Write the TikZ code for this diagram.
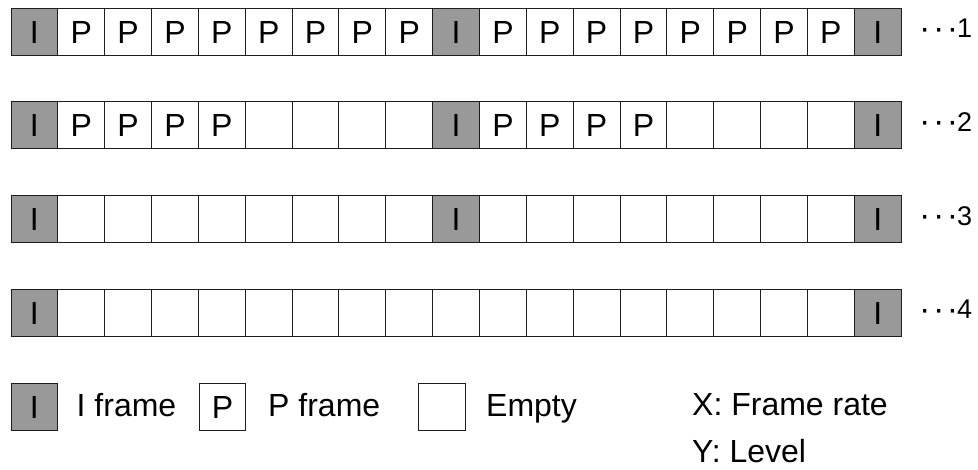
\documentclass[tikz,border=0pt]{standalone}
\usepackage{fontspec}
\setmainfont{Liberation Sans}
\definecolor{igray}{RGB}{153,153,153}
\definecolor{edge}{RGB}{30,30,30}
\def\txtI{I}
\def\txtP{P}
\def\txtE{}
\begin{document}
\begin{tikzpicture}[x=1pt,y=-1pt,
  big/.style={font=\fontsize{32}{38}\selectfont},
  cell/.style={draw=edge, line width=1pt, minimum width=46.85pt, minimum height=47pt,
    inner sep=0pt, anchor=north west, big, text height=23pt, text depth=0pt},
  frameI/.style={cell, fill=igray},
  frameP/.style={cell, fill=white},
  frameE/.style={cell, fill=white},
  lvl/.style={font=\fontsize{27}{30}\selectfont, inner sep=0pt, anchor=base west},
  legtext/.style={big, inner sep=0pt, anchor=base west}
]
\useasboundingbox (0,0) rectangle (978,469);

% the four rows of frames
\foreach \spec [count=\r] in {
  {I,P,P,P,P,P,P,P,P,I,P,P,P,P,P,P,P,P,I},
  {I,P,P,P,P,E,E,E,E,I,P,P,P,P,E,E,E,E,I},
  {I,E,E,E,E,E,E,E,E,I,E,E,E,E,E,E,E,E,I},
  {I,E,E,E,E,E,E,E,E,E,E,E,E,E,E,E,E,E,I}}{
  \pgfmathsetmacro{\top}{7.5+(\r-1)*93.8}
  \foreach \t [count=\c from 0] in \spec {
    \node[frame\t] (c\r-\c) at ({10.5+\c*46.85},\top) {\csname txt\t\endcsname};
  }
  \node[lvl] (lab\r) at (919,\top+30)
    {\raisebox{-1.5pt}{\fontsize{34}{34}\selectfont·\kern2.5pt·\kern2.5pt·}\kern-1pt\r};
}

% legend
\node[frameI] (legI) at (10.5,383) {I};
\node[legtext] (legIt) at (76.5,416.5) {I frame};
\node[frameP] (legP) at (198.5,383) {P};
\node[legtext] (legPt) at (268,416.5) {P frame};
\node[frameE] (legE) at (418,383) {};
\node[legtext] (legEt) at (486,416.5) {Empty};
\node[legtext] (axX) at (692,415) {X: Frame rate};
\node[legtext] (axY) at (692,462) {Y: Level};
\end{tikzpicture}
\end{document}
